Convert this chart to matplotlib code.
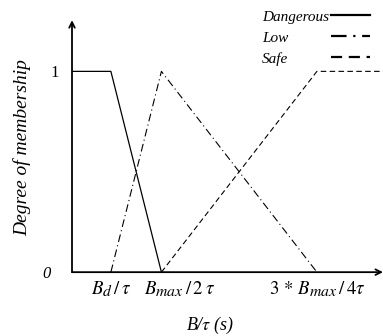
import matplotlib
matplotlib.use("Agg")
import matplotlib.pyplot as plt
import matplotlib.transforms as mtransforms
import matplotlib._mathtext as _mt

plt.rcParams['font.family'] = ['Liberation Serif', 'DejaVu Serif']
plt.rcParams['mathtext.fontset'] = 'stix'
# the reference uses a math font with larger subscripts
_mt.SHRINK_FACTOR = 0.84

# breakpoints on the B/tau axis (schematic units)
x_bd = 1.0
x_half = 2.3
x_three_quarter = 6.3
x_end = 8.0

dangerous_x = [0, x_bd, x_half]
dangerous_y = [1, 1, 0]
low_x = [x_bd, x_half, x_three_quarter]
low_y = [0, 1, 0]
safe_x = [x_half, x_three_quarter, x_end]
safe_y = [0, 1, 1]

names = ['Dangerous', 'Low', 'Safe']
tick_pos = [x_bd, x_half, x_three_quarter]
tick_labels = [r'$B_d\,/\,\tau$', r'$B_{max}\,/\,2\;\tau$', r'$3\,*\,B_{max}\,/\,4\tau$']

fig = plt.figure(figsize=(3.83, 3.36), dpi=100)
ax = fig.add_axes([0.188, 0.19, 0.812, 0.75])

l1, = ax.plot(dangerous_x, dangerous_y, color='black', lw=0.9, ls='-')
l2, = ax.plot(low_x, low_y, color='black', lw=0.8, ls=(0, (7, 3, 1, 3)))
l3, = ax.plot(safe_x, safe_y, color='black', lw=0.8, ls=(0, (5, 3)))

ax.set_xlim(0, x_end)
ax.set_ylim(0, 1.255)

for s in ax.spines.values():
    s.set_visible(False)

# axes drawn as arrows
ax.annotate('', xy=(1.0, 0), xytext=(0, 0), xycoords='axes fraction',
            arrowprops=dict(arrowstyle='->', lw=1.3, color='black', shrinkA=0, shrinkB=0))
ax.annotate('', xy=(0, 1.0), xytext=(0, 0), xycoords='axes fraction',
            arrowprops=dict(arrowstyle='->', lw=1.3, color='black', shrinkA=0, shrinkB=0))

ax.set_xticks(tick_pos)
ax.set_xticklabels(tick_labels, fontsize=13.5)
ax.set_yticks([0, 1])
ax.set_yticklabels(['0', '1'], fontsize=12)
ax.tick_params(length=0, pad=5)
ax.tick_params(axis='y', pad=11)

xl = ax.get_xticklabels()
xl[1].set_transform(xl[1].get_transform() + mtransforms.ScaledTranslation(18 / 100, 0, fig.dpi_scale_trans))
yl = ax.get_yticklabels()
yl[0].set_style('italic')
yl[0].set_transform(yl[0].get_transform() + mtransforms.ScaledTranslation(-6 / 100, 0, fig.dpi_scale_trans))
yl[1].set_transform(yl[1].get_transform() + mtransforms.ScaledTranslation(2 / 100, 0, fig.dpi_scale_trans))

ax.set_xlabel(r'B/$\tau$ (s)', fontsize=13, style='italic')
ax.xaxis.set_label_coords(0.444, -0.17)
ax.set_ylabel('Degree of membership', fontsize=14, style='italic')
ax.yaxis.set_label_coords(-0.132, 0.493)

# legend: handles on the right; labels drawn separately so they stay left aligned
leg_prop = {'family': 'Liberation Serif', 'style': 'italic', 'size': 11}
leg = ax.legend([l1, l2, l3], names, loc='upper left', frameon=False,
                bbox_to_anchor=(262 / 383, 1 - 10 / 336), bbox_transform=fig.transFigure,
                markerfirst=False, handlelength=2.6, handletextpad=0.1,
                labelspacing=0.48, borderpad=0, borderaxespad=0, prop=leg_prop)
for h in leg.legend_handles:
    h.set_linewidth(1.6)
for t in leg.get_texts():
    t.set_color('none')

fig.canvas.draw()
inv = fig.transFigure.inverted()
left = 262 / 383
for t, name in zip(leg.get_texts(), names):
    bb = t.get_window_extent()
    y0 = inv.transform((0, (bb.y0 + bb.y1) / 2))[1]
    fig.text(left, y0, name, ha='left', va='center',
             fontfamily='Liberation Serif', fontstyle='italic', fontsize=11)

fig.savefig('out.png', dpi=100)
